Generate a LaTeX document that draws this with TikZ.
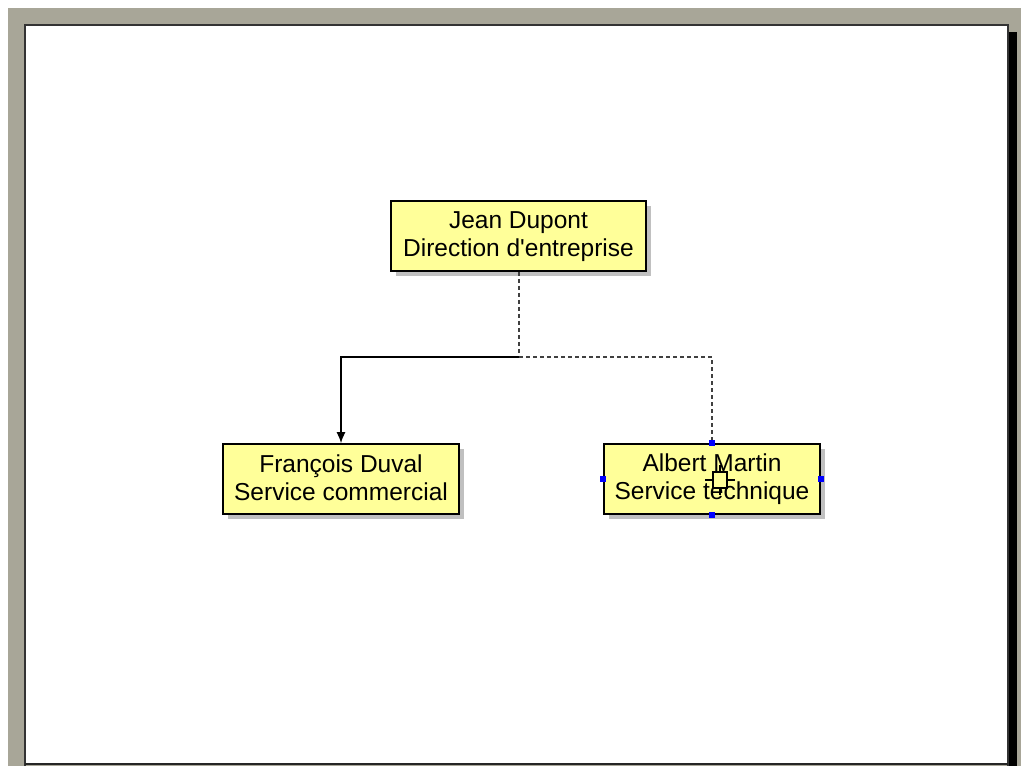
\documentclass[tikz,border=0pt]{standalone}
\usepackage{fontspec}
\setmainfont{Liberation Sans}
\usetikzlibrary{arrows.meta}
\definecolor{frame}{HTML}{A8A698}
\definecolor{boxfill}{HTML}{FFFF99}
\definecolor{shadowc}{HTML}{C0C0C0}
\definecolor{handle}{HTML}{0000FF}
\newcommand{\boxline}[1]{\rule[-3pt]{0pt}{21pt}#1}
\tikzset{
  person/.style={draw=black, line width=1.6pt, fill=boxfill, minimum height=70pt,
    inner sep=0pt, align=center, font=\fontsize{24.5}{28}\selectfont},
  link/.style={line width=1.5pt, black},
  dotlink/.style={line width=1.5pt, draw=black!75, dash pattern=on 4pt off 3pt},
  hnd/.style={fill=handle, draw=none, minimum size=6pt, inner sep=0pt}
}
\begin{document}
\begin{tikzpicture}[x=1pt,y=-1pt]
\useasboundingbox (0,0) rectangle (1021,766);
\fill[white] (0,0) rectangle (1021,766);
\fill[frame] (8,8) rectangle (1021,766);
% page
\fill[black] (1009,32) rectangle (1017,766);
\fill[white] (25,25) rectangle (1008,764);
\draw[line width=2pt, black!80] (25,766) -- (25,25) -- (1008,25) -- (1008,766);
\draw[line width=2pt, black!85] (25,764) -- (1008,764);
% shadows
\fill[shadowc] (396,206) rectangle (651,276);
\fill[shadowc] (228,449) rectangle (464,519);
\fill[shadowc] (609,449) rectangle (825,519);
% boxes
\node[person, minimum width=255pt] (jd) at (518.5,236) {\boxline{Jean Dupont}\\\boxline{Direction d\textquotesingle entreprise}};
\node[person, minimum width=236pt] (fd) at (341,479) {\boxline{François Duval}\\\boxline{Service commercial}};
\node[person, minimum width=216pt] (am) at (712,479) {\boxline{Albert Martin}\\\boxline{Service technique}};
% connectors
\coordinate (j) at (519,357);
\draw[dotlink] (jd.south -| j) -- (j);
\draw[link, -{Latex[length=11pt,width=9pt]}] (j) -| (fd.north);
\draw[dotlink] (j) -| (am.north);
% selection handles
\node[hnd] (h1) at (am.north) {};
\node[hnd] (h2) at (am.south) {};
\node[hnd] (h3) at (am.west) {};
\node[hnd] (h4) at (am.east) {};
% cursor
\draw[line width=1.5pt] (720,465) -- (720,495) (705,480) -- (735,480);
\draw[line width=1.5pt, fill=boxfill] (713,472) rectangle (727,488);
\end{tikzpicture}
\end{document}
